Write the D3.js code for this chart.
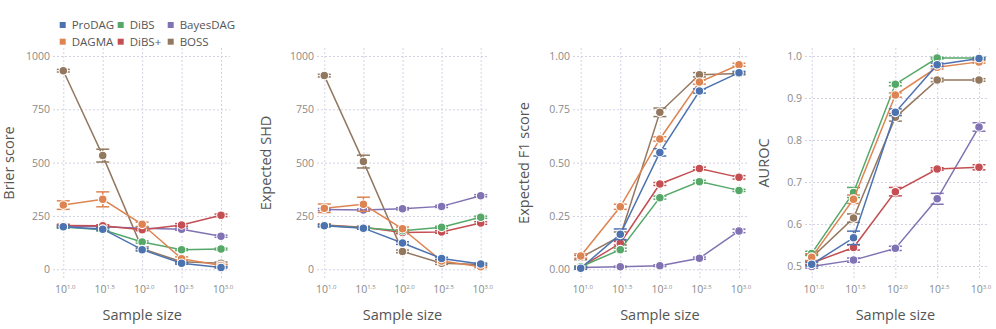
<!DOCTYPE html>
<html><head><meta charset="utf-8">
<script src="https://cdn.jsdelivr.net/npm/d3@7"></script>
<style>
html,body{margin:0;padding:0;background:#fff;}
svg{display:block;font-family:"Open Sans",sans-serif;}
</style></head>
<body>
<svg id="chart" width="996" height="329"></svg>
<script>
// ---- data ----
const sampleExp = [1.0, 1.5, 2.0, 2.5, 3.0];
const sampleExpLabels = ["1.0", "1.5", "2.0", "2.5", "3.0"];
const methods = ["ProDAG", "DAGMA", "DiBS", "DiBS+", "BayesDAG", "BOSS"];
const methodColors = ["#4C72B0", "#DD8452", "#55A868", "#C44E52", "#8172B3", "#937860"];

// order of rows: ProDAG, DAGMA, DiBS, DiBS+, BayesDAG, BOSS
const brierMean = [
  [200, 188, 92, 28, 9],
  [301, 328, 211, 50, 18],
  [198, 185, 128, 92, 95],
  [205, 204, 186, 208, 253],
  [203, 200, 193, 188, 155],
  [931, 533, 97, 35, 28]
];
const brierErr = [
  [5, 6, 6, 4, 3],
  [20, 35, 10, 8, 5],
  [5, 5, 5, 4, 4],
  [6, 5, 5, 6, 6],
  [5, 5, 5, 5, 5],
  [6, 30, 8, 6, 6]
];
const shdMean = [
  [204, 193, 123, 51, 25],
  [286, 305, 190, 39, 12],
  [205, 195, 181, 197, 244],
  [208, 197, 173, 175, 217],
  [280, 278, 284, 295, 345],
  [908, 505, 84, 28, 22]
];
const shdErr = [
  [5, 5, 6, 5, 4],
  [20, 33, 8, 6, 4],
  [5, 5, 5, 5, 5],
  [5, 5, 6, 6, 6],
  [5, 5, 5, 5, 5],
  [6, 30, 6, 5, 5]
];
const f1Mean = [
  [0.005, 0.164, 0.548, 0.836, 0.922],
  [0.062, 0.293, 0.611, 0.878, 0.959],
  [0.012, 0.092, 0.336, 0.411, 0.370],
  [0.010, 0.122, 0.400, 0.473, 0.431],
  [0.008, 0.012, 0.017, 0.052, 0.180],
  [0.055, 0.155, 0.736, 0.912, 0.918]
];
const f1Err = [
  [0.005, 0.025, 0.017, 0.010, 0.006],
  [0.010, 0.012, 0.010, 0.010, 0.007],
  [0.004, 0.007, 0.007, 0.006, 0.005],
  [0.004, 0.008, 0.007, 0.006, 0.008],
  [0.003, 0.003, 0.004, 0.005, 0.008],
  [0.010, 0.020, 0.020, 0.010, 0.006]
];
const aurocMean = [
  [0.504, 0.567, 0.866, 0.979, 0.994],
  [0.521, 0.659, 0.907, 0.973, 0.986],
  [0.530, 0.675, 0.933, 0.995, 0.995],
  [0.507, 0.544, 0.677, 0.731, 0.735],
  [0.499, 0.514, 0.542, 0.660, 0.831],
  [0.520, 0.614, 0.854, 0.943, 0.943]
];
const aurocErr = [
  [0.004, 0.016, 0.008, 0.004, 0.002],
  [0.008, 0.010, 0.005, 0.004, 0.003],
  [0.005, 0.012, 0.004, 0.002, 0.002],
  [0.004, 0.006, 0.010, 0.003, 0.006],
  [0.004, 0.005, 0.005, 0.013, 0.010],
  [0.008, 0.010, 0.009, 0.004, 0.003]
];
const brierTicks = [0, 250, 500, 750, 1000];
const shdTicks = [0, 250, 500, 750, 1000];
const f1Ticks = [0, 0.25, 0.5, 0.75, 1.0];
const aurocTicks = [0.5, 0.6, 0.7, 0.8, 0.9, 1.0];

// ---- layout ----
const panels = [
  {title: "Brier score", mean: brierMean, err: brierErr, ticks: brierTicks, fmt: d3.format("d"),
   yDomain: [0, 1000], yRange: [269.3, 56], left: 53, right: 230, xr: [63.3, 221], titleX: 14},
  {title: "Expected SHD", mean: shdMean, err: shdErr, ticks: shdTicks, fmt: d3.format("d"),
   yDomain: [0, 1000], yRange: [269.3, 56], left: 317, right: 489, xr: [324.3, 480.7], titleX: 271},
  {title: "Expected F1 score", mean: f1Mean, err: f1Err, ticks: f1Ticks, fmt: d3.format(".2f"),
   yDomain: [0, 1], yRange: [269.3, 56], left: 573, right: 748, xr: [580.7, 739], titleX: 529},
  {title: "AUROC", mean: aurocMean, err: aurocErr, ticks: aurocTicks, fmt: d3.format(".1f"),
   yDomain: [0.5, 1], yRange: [266, 56], left: 805, right: 987, xr: [811.7, 979], titleX: 769}
];
const plotTop = 48, plotBottom = 278;
const drawOrder = [5, 4, 3, 2, 1, 0];

const svg = d3.select("#chart");

panels.forEach(p => {
  const x = d3.scaleLinear().domain([1.0, 3.0]).range(p.xr);
  const y = d3.scaleLinear().domain(p.yDomain).range(p.yRange);
  const g = svg.append("g");

  // grid (vertical)
  const xAxis = d3.axisBottom(x).tickValues(sampleExp).tickSize(-(plotBottom - plotTop)).tickFormat("");
  const gx = g.append("g").attr("transform", `translate(0,${plotBottom})`).call(xAxis);
  gx.select(".domain").remove();
  gx.selectAll(".tick line").attr("stroke", "#d2d2e6").attr("stroke-width", 1).attr("stroke-dasharray", "2,2");

  // grid (horizontal) + y tick labels
  const yAxis = d3.axisLeft(y).tickValues(p.ticks).tickSize(-(p.right - p.left)).tickFormat(p.fmt).tickPadding(3);
  const gy = g.append("g").attr("transform", `translate(${p.left},0)`).call(yAxis);
  gy.select(".domain").remove();
  gy.selectAll(".tick line").attr("stroke", "#d2d2e6").attr("stroke-width", 1).attr("stroke-dasharray", "2,2");
  gy.selectAll(".tick text").attr("fill", "#8a8a8a").attr("font-size", 10.5).attr("font-family", "Open Sans");

  // x tick labels with superscripts
  sampleExp.forEach((v, i) => {
    const t = g.append("text").attr("x", x(v) + 2).attr("y", 292.5).attr("text-anchor", "middle")
      .attr("fill", "#8a8a8a").attr("font-size", 10.5);
    t.append("tspan").text("10");
    t.append("tspan").attr("font-size", 6).attr("dy", -3.5).text(sampleExpLabels[i]);
  });

  // axis titles
  g.append("text").attr("x", (p.xr[0] + p.xr[1]) / 2).attr("y", 320).attr("text-anchor", "middle")
    .attr("fill", "#555").attr("font-size", 14.5).text("Sample size");
  g.append("text").attr("transform", `translate(${p.titleX},163) rotate(-90)`).attr("text-anchor", "middle")
    .attr("fill", "#555").attr("font-size", 14.5).text(p.title);

  const line = d3.line().x((d, i) => x(sampleExp[i])).y(d => y(d));

  drawOrder.forEach(m => {
    const col = methodColors[m];
    const sg = g.append("g");
    sg.append("path").datum(p.mean[m]).attr("d", line).attr("fill", "none")
      .attr("stroke", col).attr("stroke-width", 1.5);
    // error bars
    p.mean[m].forEach((v, i) => {
      const e = p.err[m][i];
      const cx = x(sampleExp[i]);
      sg.append("line").attr("x1", cx).attr("x2", cx).attr("y1", y(v - e)).attr("y2", y(v + e))
        .attr("stroke", col).attr("stroke-width", 1.5);
      [v - e, v + e].forEach(b => {
        sg.append("line").attr("x1", cx - 6.5).attr("x2", cx + 6.5).attr("y1", y(b)).attr("y2", y(b))
          .attr("stroke", col).attr("stroke-width", 1.5);
      });
    });
    sg.selectAll("circle").data(p.mean[m]).join("circle")
      .attr("cx", (d, i) => x(sampleExp[i])).attr("cy", d => y(d)).attr("r", 4.3)
      .attr("fill", col).attr("stroke", "#fff").attr("stroke-width", 1.1);
  });
});

// legend
const legendCols = [62.7, 120.7, 170.7];
const legendRows = [25, 41.7];
const legendOrder = [[0, 2, 4], [1, 3, 5]];
legendOrder.forEach((row, r) => {
  row.forEach((m, c) => {
    svg.append("rect").attr("x", legendCols[c] - 3).attr("y", legendRows[r] - 3).attr("width", 6).attr("height", 6)
      .attr("fill", methodColors[m]);
    svg.append("text").attr("x", legendCols[c] + 9).attr("y", legendRows[r] + 4)
      .attr("fill", "#555").attr("font-size", 11.5).text(methods[m]);
  });
});
</script>
</body></html>
